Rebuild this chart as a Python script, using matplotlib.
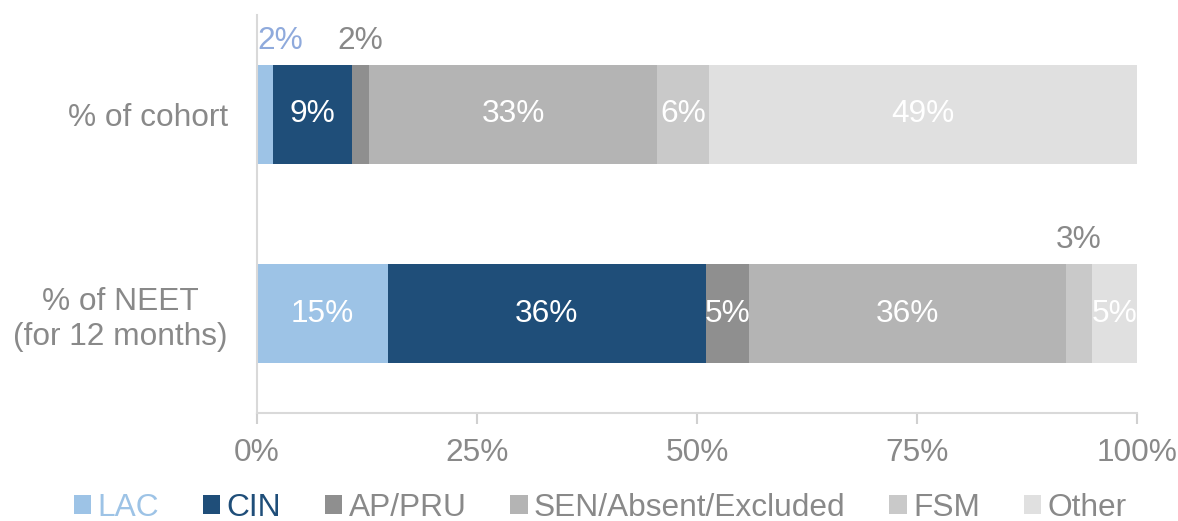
import numpy as np
import matplotlib
matplotlib.use('Agg')
import matplotlib.pyplot as plt
from matplotlib.patches import Patch

plt.rcParams['font.family'] = ['Liberation Sans', 'DejaVu Sans']

rows = ['% of NEET\n(for 12 months)', '% of cohort']
series = ['LAC', 'CIN', 'AP/PRU', 'SEN/Absent/Excluded', 'FSM', 'Other']
# values per series: [NEET, cohort]
lac = [14.9, 1.8]
cin = [36.1, 9.0]
ap_pru = [4.9, 1.9]
sen = [36.0, 32.8]
fsm = [3.0, 5.9]
other = [5.1, 48.6]
values = [lac, cin, ap_pru, sen, fsm, other]

colors = ['#9DC3E6', '#1F4E79', '#8F8F8F', '#B4B4B4', '#C9C9C9', '#E0E0E0']
outside_colors = ['#8FAADC', '#898989', '#898989', '#898989', '#898989', '#898989']
legend_text = ['#9DC3E6', '#1F4E79', '#898989', '#898989', '#898989', '#898989']
grey = '#898989'
fs = 22.8

fig = plt.figure(figsize=(11.78, 5.21), dpi=100)
ax = fig.add_axes([257 / 1178, 1 - 413 / 521, 880 / 1178, 398 / 521])

y = np.arange(len(rows))
left = np.zeros(len(rows))
for i, (name, vals) in enumerate(zip(series, values)):
    vals = np.array(vals)
    ax.barh(y, vals, left=left, height=0.5, color=colors[i], label=name)
    for j, v in enumerate(vals):
        txt = '{:.0f}%'.format(v)
        cx = left[j] + v / 2
        if v < 4:
            if i == 0:
                ax.annotate(txt, (left[j], y[j] + 0.25), xytext=(0, 17),
                            textcoords='offset points', ha='left', va='center',
                            color=outside_colors[i], fontsize=fs)
            else:
                ax.annotate(txt, (cx, y[j] + 0.25), xytext=(0, 17),
                            textcoords='offset points', ha='center', va='center',
                            color=outside_colors[i], fontsize=fs)
        else:
            ax.text(cx, y[j], txt, ha='center', va='center', color='white', fontsize=fs)
    left += vals

ax.set_xlim(0, 100)
ax.set_ylim(-0.5, 1.5)
ax.set_xticks([0, 25, 50, 75, 100])
ax.set_xticklabels(['0%', '25%', '50%', '75%', '100%'])
ax.set_yticks(y)
ax.set_yticklabels(rows)
ax.tick_params(axis='x', colors='#D0D0D0', length=8, width=1.5, labelcolor=grey,
               labelsize=fs, pad=10)
ax.tick_params(axis='y', length=0, labelcolor=grey, labelsize=fs, pad=21)
for lbl in ax.get_yticklabels():
    lbl.set_multialignment('center')
for s in ['top', 'right']:
    ax.spines[s].set_visible(False)
for s in ['left', 'bottom']:
    ax.spines[s].set_color('#D9D9D9')
    ax.spines[s].set_linewidth(1.5)

handles = [Patch(facecolor=c, edgecolor='none') for c in colors]
leg = fig.legend(handles, series, loc='center', bbox_to_anchor=(600 / 1178, 1 - 508 / 521),
                 ncol=6, frameon=False, fontsize=fs, handlelength=0.55, handleheight=0.55,
                 handletextpad=0.2, columnspacing=1.38, borderpad=0)
for t, c in zip(leg.get_texts(), legend_text):
    t.set_color(c)

fig.savefig('out.png', dpi=100)
